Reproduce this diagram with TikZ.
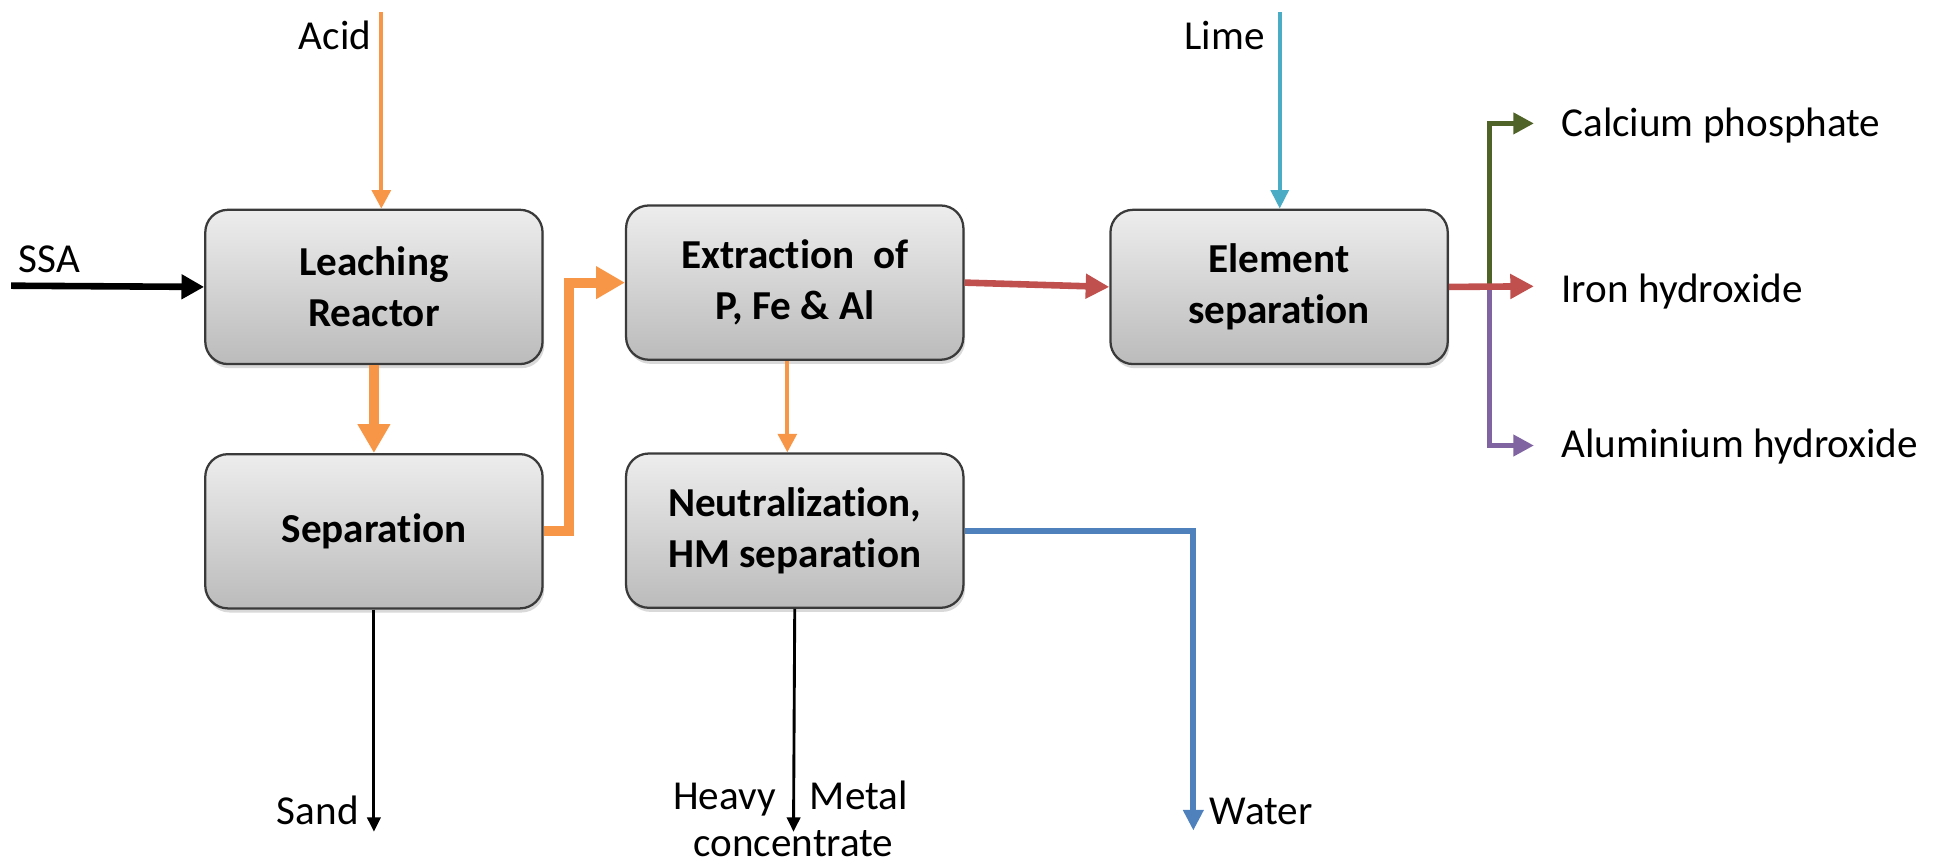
\documentclass[tikz,border=0pt]{standalone}
\usepackage{fontspec}
\setmainfont{Carlito}[Ligatures=NoCommon]
\usetikzlibrary{arrows.meta,shadows,calc}
\definecolor{orng}{HTML}{F79646}
\definecolor{redc}{HTML}{C0504D}
\definecolor{grnc}{HTML}{4F6228}
\definecolor{purc}{HTML}{8064A2}
\definecolor{bluc}{HTML}{4F81BD}
\definecolor{cyanc}{HTML}{4BACC6}
\definecolor{boxtop}{HTML}{EDEDED}
\definecolor{boxbot}{HTML}{BBBBBB}
\definecolor{boxline}{HTML}{3A3A3A}
\begin{document}
\begin{tikzpicture}[x=0.6pt,y=-0.6pt,
  proc/.style={rectangle, rounded corners=11pt, draw=boxline, line width=1.1pt,
    top color=boxtop, bottom color=boxbot, minimum width=164pt, minimum height=75pt,
    align=center, font=\fontsize{20}{24.6}\selectfont\bfseries, inner sep=0pt,
    drop shadow={shadow xshift=0.8pt, shadow yshift=-2pt, opacity=0.3}},
  lbl/.style={inner sep=0pt, font=\fontsize{20}{24}\selectfont},
  othick/.style={draw=orng, line width=4.8pt, -{Triangle[length=14pt,width=15pt]}},
  othin/.style={draw=orng, line width=2pt, -{Triangle[length=9pt,width=9pt]}},
  redarr/.style={draw=redc, line width=3.2pt, -{Triangle[length=11.5pt,width=11.5pt]}},
  cyarr/.style={draw=cyanc, line width=2pt, -{Triangle[length=9pt,width=8.5pt]}},
  blkthick/.style={draw=black, line width=3.2pt, -{Triangle[length=11pt,width=11.5pt]}},
  blkthin/.style={draw=black, line width=1.4pt, -{Triangle[length=7pt,width=6.5pt]}},
  grnarr/.style={draw=grnc, line width=2.8pt, -{Triangle[length=10pt,width=10pt]}},
  purarr/.style={draw=purc, line width=2.8pt, -{Triangle[length=10pt,width=10pt]}},
  bluarr/.style={draw=bluc, line width=2.8pt, -{Triangle[length=10pt,width=9.5pt]}}
]
\useasboundingbox (0,0) rectangle (1568,700);

% process boxes
\node[proc] (leach) at (303,232.5) {Leaching\\Reactor};
\node[proc] (sep) at (303,430.5) {Separation};
\node[proc] (extr) at (644,229) {Extraction\ \ of\\P, Fe \& Al};
\node[proc] (neut) at (644,430) {Neutralization,\\HM separation};
\node[proc] (elem) at (1036.5,232.5) {Element\\separation};

% labels
\node[lbl, anchor=base east] (acidl) at (301,40.5) {Acid};
\node[lbl, anchor=base west] (ssal) at (15,221) {SSA};
\node[lbl, anchor=base east] (limel) at (1025,40) {Lime};
\node[lbl, anchor=base west] (calc) at (1265,111) {Calcium phosphate};
\node[lbl, anchor=base west] (iron) at (1265,245) {Iron hydroxide};
\node[lbl, anchor=base west] (alu) at (1265,371) {Aluminium hydroxide};
\node[lbl, anchor=base east] (sand) at (291,668) {Sand};
\node[lbl, anchor=base east] (heavy) at (629,656) {Heavy};
\node[lbl, anchor=base west] (metal) at (656,656) {Metal};
\node[lbl, anchor=base] (conc) at (643,694) {concentrate};
\node[lbl, anchor=base west] (water) at (980,668) {Water};

% free ends
\coordinate (acidtop) at (309,10);
\coordinate (limetop) at (1037,10);
\coordinate (ssa) at (9,231.5);
\coordinate (sandend) at (303,674);
\coordinate (hmend) at (643,674);
\coordinate (wturn) at (967,431);
\coordinate (wend) at (967,673);
\coordinate (riser) at (461,430);
\coordinate (bx) at (1207,232);
\coordinate (cpend) at (1243,100);
\coordinate (ironend) at (1243,232);
\coordinate (alend) at (1243,361);

% connectors
\draw[blkthick] (ssa) -- (leach.west);
\draw[othin] (acidtop) -- (acidtop |- leach.north);
\draw[othick] (leach.south) -- (sep.north);
\draw[othick] (sep.east) -- (sep.east -| riser) -- (riser |- extr.west) -- (extr.west);
\draw[othin] ([xshift=-3.6pt]extr.south) -- ([xshift=-3.6pt]neut.north);
\draw[redarr] (extr.east) -- (elem.west);
\draw[cyarr] (limetop) -- (limetop |- elem.north);
\draw[blkthin] (sep.south) -- (sandend);
\draw[blkthin] (neut.south) -- (hmend);
\draw[bluarr] (neut.east) -- (neut.east -| wturn) -- (wend);
\draw[grnarr] (bx) -- (bx |- cpend) -- (cpend);
\draw[purarr] (bx) -- (bx |- alend) -- (alend);
\draw[redarr] (elem.east) -- (ironend);
\end{tikzpicture}
\end{document}
